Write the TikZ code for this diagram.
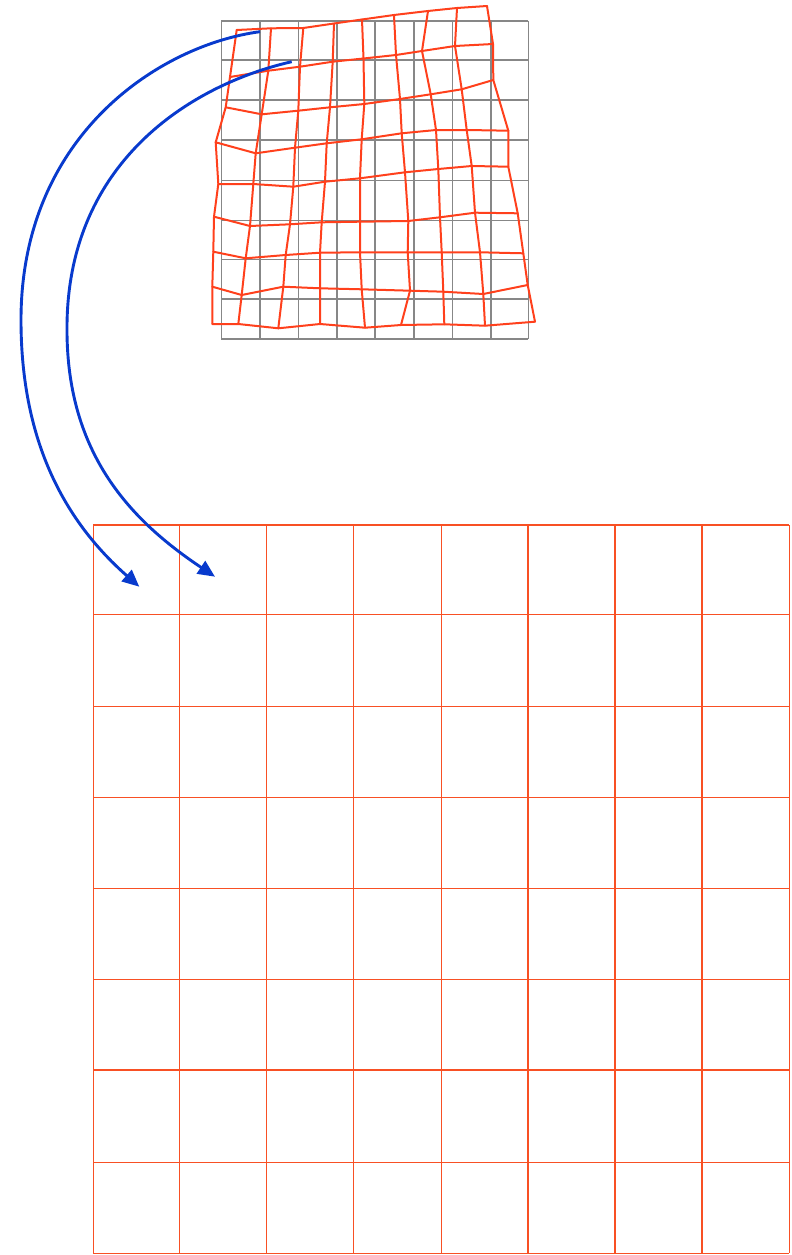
\documentclass[tikz,border=0pt]{standalone}
\usetikzlibrary{arrows.meta}
\definecolor{meshred}{RGB}{255,64,28}
\definecolor{gridred}{RGB}{248,80,36}
\definecolor{arrowblue}{RGB}{8,58,205}
\definecolor{gridgray}{RGB}{135,135,135}
\begin{document}
\begin{tikzpicture}[x=1pt,y=-1pt,
  graygrid/.style={draw=gridgray,line width=1.3pt},
  mesh/.style={draw=meshred,line width=2pt,line join=round,line cap=round},
  biggrid/.style={draw=gridred,line width=1.3pt},
  maparrow/.style={draw=arrowblue,line width=2.9pt,-{Triangle[length=17pt,width=15pt]}}]
\useasboundingbox (0,0) rectangle (792,1255);
% gray regular grid
\foreach \x in {221.3,260,298.3,337,375,414,452.3,491,528.3}
  \draw[graygrid] (\x,21) -- (\x,339);
\foreach \y in {21,60,100,140,180.5,220.5,259.7,299,339}
  \draw[graygrid] (221.3,\y) -- (528.3,\y);
% distorted mesh vertices
\foreach[count=\i from 0] \x/\y in {236.7/30,271/28.3,303.3/28,334/23.5,362/19.5,394/15,428/11,457/8,487/6}
  \coordinate (v\i-0) at (\x,\y);
\foreach[count=\i from 0] \x/\y in {230/77,268.3/70.7,300/66.7,332.7/61.7,363.5/58.5,396/55,422/51,455/46,493/44}
  \coordinate (v\i-1) at (\x,\y);
\foreach[count=\i from 0] \x/\y in {225.7/107.3,261.7/114.3,298.3/110.7,330/107.3,364.3/104,400/99,430.7/94.3,461.7/89.3,493.3/80}
  \coordinate (v\i-2) at (\x,\y);
\foreach[count=\i from 0] \x/\y in {215.7/142.3,255.7/153.3,295/147.7,326.7/143.3,361.7/139.3,401.7/133.3,436/130,466.7/130,508.3/130.7}
  \coordinate (v\i-3) at (\x,\y);
\foreach[count=\i from 0] \x/\y in {218.3/184,253.3/184,293.3/186.7,325/181.7,360/178.3,405/172.3,438.3/169,471.7/166,508.3/166.7}
  \coordinate (v\i-4) at (\x,\y);
\foreach[count=\i from 0] \x/\y in {214/216.7,250/226,290/224.3,321.7/222.3,360/221.7,408.3/221,440/217.3,475/212.7,517.7/213.3}
  \coordinate (v\i-5) at (\x,\y);
\foreach[count=\i from 0] \x/\y in {213.3/251.7,245.7/258.3,285.7/255,320/252.7,360/252.3,407.7/252.3,441.7/252.3,480/252.3,523.3/253.3}
  \coordinate (v\i-6) at (\x,\y);
\foreach[count=\i from 0] \x/\y in {212.3/286.7,241.7/295,283.3/286.7,320/288.3,361.7/289.3,410/290.7,443.3/291.7,483.3/294,527.7/285}
  \coordinate (v\i-7) at (\x,\y);
\foreach[count=\i from 0] \x/\y in {212.3/324,238.3/324,278.3/328.3,320/324,365/327.7,401/325,444.3/324.3,485/325.7,535/321.7}
  \coordinate (v\i-8) at (\x,\y);
% mesh rows and columns
\foreach \j in {0,...,8}
  \draw[mesh] (v0-\j) \foreach \i in {1,...,8}{ -- (v\i-\j)};
\foreach \i in {0,...,8}
  \draw[mesh] (v\i-0) \foreach \j in {1,...,8}{ -- (v\i-\j)};
% big output grid
\foreach \x in {93.3,179.3,266.5,353.3,441.3,528,615,702,789.3}
  \draw[biggrid] (\x,525) -- (\x,1253.3);
\foreach \y in {525,614.3,706.7,797.3,888.7,979.7,1070,1162.7,1253.3}
  \draw[biggrid] (93.3,\y) -- (789.3,\y);
% arrows
\coordinate (a1s) at (260,31.7);
\coordinate (a1m) at (21,320);
\coordinate (a1e) at (139.3,586.7);
\coordinate (a2s) at (291.7,61.7);
\coordinate (a2m) at (67,330);
\coordinate (a2e) at (215,576.7);
\draw[maparrow] (a1s) .. controls (160,45) and (21,135) .. (a1m)
  .. controls (21,430) and (56.8,514.1) .. (a1e);
\draw[maparrow] (a2s) .. controls (190,85) and (66,163) .. (a2m)
  .. controls (67,455) and (132,521.2) .. (a2e);
\end{tikzpicture}
\end{document}
